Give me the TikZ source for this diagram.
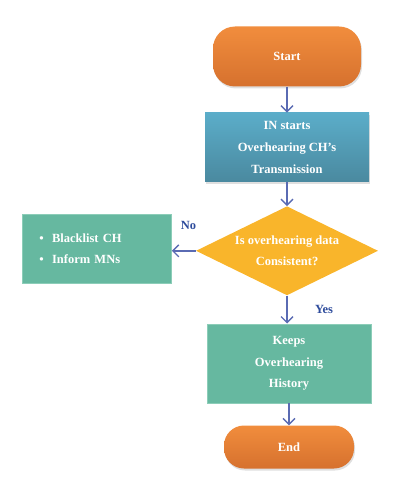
\documentclass[tikz,border=0pt]{standalone}
\usepackage{fontspec}
\setmainfont{Liberation Serif}
\usepackage{tikz}
\usetikzlibrary{shapes.geometric, positioning, arrows.meta, shadows}

\definecolor{termtop}{HTML}{F18D3D}
\definecolor{termbot}{HTML}{D6712E}
\definecolor{proctop}{HTML}{5BADC9}
\definecolor{procbot}{HTML}{4A899F}
\definecolor{condfill}{HTML}{F9B52B}
\definecolor{tealfill}{HTML}{66B8A0}
\definecolor{tealedge}{HTML}{8CCDB8}
\definecolor{flowcol}{HTML}{5A6BB3}
\definecolor{lblcol}{HTML}{2E4C9C}

\tikzset{
  boxtext/.style={text=white, font=\fontsize{12.5}{21.7}\selectfont\bfseries},
  term/.style={boxtext, rectangle, rounded corners=22pt, top color=termtop, bottom color=termbot, draw=none, minimum width=148pt, minimum height=60pt, drop shadow={opacity=0.25, shadow xshift=1pt, shadow yshift=-2pt}},
  proc/.style={boxtext, rectangle, top color=proctop, bottom color=procbot, draw=none, minimum width=164pt, minimum height=69pt, align=center, inner sep=0pt, drop shadow={opacity=0.25, shadow xshift=1pt, shadow yshift=-2pt}},
  cond/.style={boxtext, diamond, fill=condfill, shape aspect=2.045, minimum width=182pt, minimum height=89pt, inner sep=0pt, align=center},
  tealbox/.style={boxtext, rectangle, fill=tealfill, draw=tealedge, line width=0.8pt},
  flow/.style={draw=flowcol, line width=1.4pt, -{Straight Barb[length=6pt, width=12pt]}},
  lbl/.style={text=lblcol, font=\fontsize{12.5}{15}\selectfont\bfseries}
}

\begin{document}
\begin{tikzpicture}

\useasboundingbox (0,0) rectangle (402pt,-500pt);

\node[term] (start) at (287pt,-56.5pt) {Start};

\node[proc, below = 26pt of start] (ins) {IN starts\\Overhearing CH’s\\Transmission};

\draw[flow] (start) -- (ins);

\node[cond, below = 24pt of ins] (check) {Is overhearing data\\Consistent?};

\draw[flow] (ins) -- (check);

\node[tealbox, left = 24pt of check, yshift=2pt, minimum width=149pt, minimum height=69pt, text width=115pt, inner xsep=17pt, align=left] (act) {\textbullet\ \ Blacklist CH\\\textbullet\ \ Inform MNs};

\draw[flow] (check.west) -- node[pos=0.3, above=17pt, lbl]{No} (check.west -| act.east);

\node[tealbox, below = 28pt of check, xshift=2pt, minimum width=164pt, minimum height=79pt, align=center, inner sep=0pt] (keep) {Keeps\\Overhearing\\History};

\draw[flow] (check.south) -- node[pos=0.5, right=24pt, lbl]{Yes} (check.south |- keep.north);

\node[term, below = 22pt of keep, minimum width=130pt, minimum height=43pt, rounded corners=20pt] (end) {End};

\draw[flow] (keep) -- (end);

\end{tikzpicture}
\end{document}
